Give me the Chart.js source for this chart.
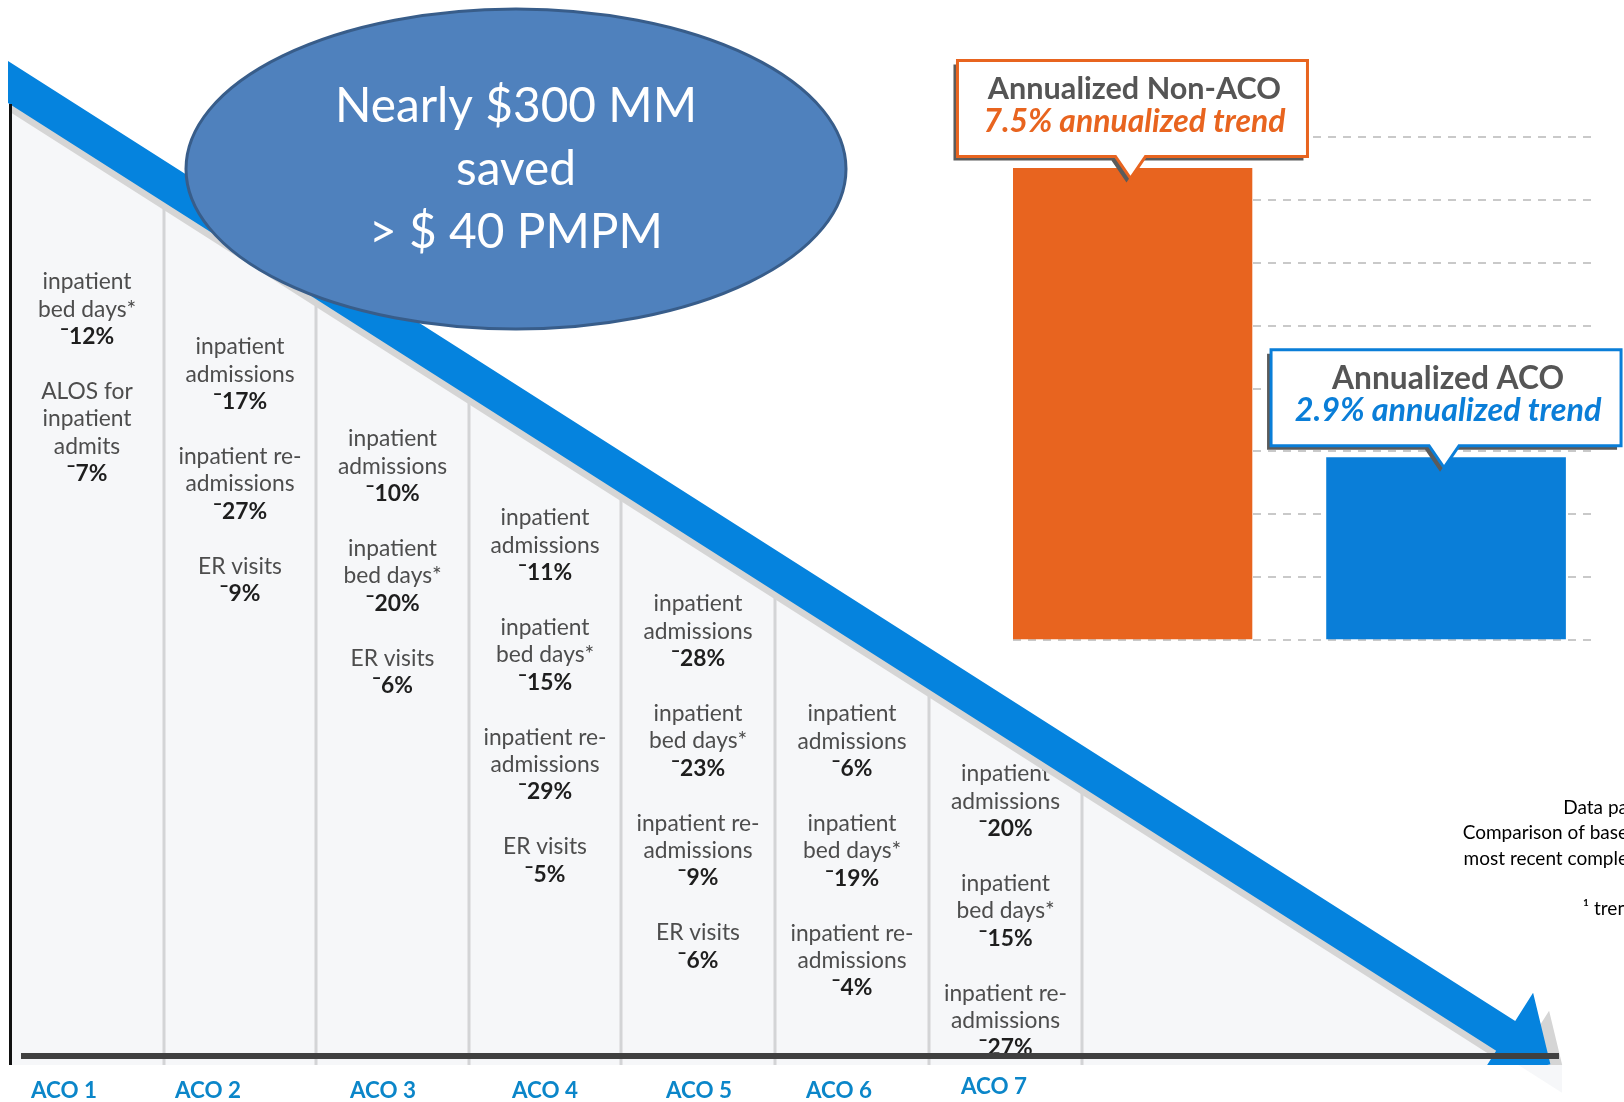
<!DOCTYPE html>
<html>
<head>
<meta charset="utf-8">
<script src="https://cdn.jsdelivr.net/npm/chart.js@4.4.1/dist/chart.umd.min.js"></script>
<style>
  html, body { margin: 0; padding: 0; background: #fff; overflow: hidden; }
  canvas { display: block; }
</style>
</head>
<body>
<canvas id="c" width="1624" height="1102"></canvas>
<script>
// annualized trend bars (right)
const trendLabels = ['Annualized Non-ACO', 'Annualized ACO'];
const trendValues = [7.5, 2.9];
const trendColors = ['#e8641f', '#0a7ed8'];
const trendMax = 8;

// ACO columns (left)
const acoLabels = ['ACO 1', 'ACO 2', 'ACO 3', 'ACO 4', 'ACO 5', 'ACO 6', 'ACO 7'];
const acoMetrics = [
  ['inpatient\nbed days*', 'ALOS for\ninpatient\nadmits'],
  ['inpatient\nadmissions', 'inpatient re-\nadmissions', 'ER visits'],
  ['inpatient\nadmissions', 'inpatient\nbed days*', 'ER visits'],
  ['inpatient\nadmissions', 'inpatient\nbed days*', 'inpatient re-\nadmissions', 'ER visits'],
  ['inpatient\nadmissions', 'inpatient\nbed days*', 'inpatient re-\nadmissions', 'ER visits'],
  ['inpatient\nadmissions', 'inpatient\nbed days*', 'inpatient re-\nadmissions'],
  ['inpatient\nadmissions', 'inpatient\nbed days*', 'inpatient re-\nadmissions']
];
const acoReductions = [[12, 7], [17, 27, 9], [10, 20, 6], [11, 15, 29, 5], [28, 23, 9, 6], [6, 19, 4], [20, 15, 27]];

const headline = ['Nearly $300 MM', 'saved', '> $ 40 PMPM'];
const footnote = ['Data pa', 'Comparison of base', 'most recent comple', '\u00b9 tren'];

// layout
const COL_EDGES = [10, 164, 316, 469, 621, 775, 929, 1082];
const COL_TOP = [282, 347, 439, 518, 604, 714, 774];
const LABEL_X = [64, 208, 383, 545, 699, 839, 994];
const LINE_H = 27.4;
const FLOOR = 1065;
const SLOPE = 0.6369;
const arrowTop = x => 61 + SLOPE * (x - 8);

function fitSize(ctx, text, font, target) {
  ctx.font = font.replace('{s}', 100);
  return 100 * target / ctx.measureText(text).width;
}

function arrowPath(ctx, dx, dy) {
  const len = Math.hypot(1, SLOPE);
  const u = [1 / len, SLOPE / len];
  const n = [SLOPE / len, -1 / len];
  const h = 21 / len, H = 51, L = 53;
  const bx = 1505.7, by = arrowTop(bx) + 21;
  const pts = [
    [-40, arrowTop(-40)],
    [bx + h * n[0], by + h * n[1]],
    [bx + H * n[0], by + H * n[1]],
    [bx + L * u[0], by + L * u[1]],
    [bx - H * n[0], by - H * n[1]],
    [bx - h * n[0], by - h * n[1]],
    [-40, arrowTop(-40) + 42]
  ];
  ctx.beginPath();
  pts.forEach((p, i) => i ? ctx.lineTo(p[0] + dx, p[1] + dy) : ctx.moveTo(p[0] + dx, p[1] + dy));
  ctx.closePath();
}

const infographic = {
  id: 'infographic',
  beforeDraw(chart) {
    const ctx = chart.ctx;
    ctx.save();
    ctx.fillStyle = '#fff';
    ctx.fillRect(0, 0, chart.width, chart.height);

    // light panel under the arrow
    ctx.beginPath();
    ctx.moveTo(10, arrowTop(10) + 42);
    ctx.lineTo(1562, arrowTop(1562) + 42);
    ctx.lineTo(1562, FLOOR);
    ctx.lineTo(10, FLOOR);
    ctx.closePath();
    ctx.fillStyle = '#f6f7f9';
    ctx.fill();

    // column separators
    ctx.strokeStyle = '#d3d4d6';
    ctx.lineWidth = 3;
    COL_EDGES.slice(1).forEach(x => {
      ctx.beginPath();
      ctx.moveTo(x, arrowTop(x) + 42);
      ctx.lineTo(x, FLOOR);
      ctx.stroke();
    });

    // column texts
    ctx.save();
    ctx.beginPath();
    ctx.rect(0, 0, 1100, 1054);
    ctx.clip();
    const regFont = '{s}px Lato, "DejaVu Sans", sans-serif';
    const boldFont = 'bold {s}px Lato, "DejaVu Sans", sans-serif';
    const regSize = fitSize(ctx, 'admissions', regFont, 109);
    ctx.textAlign = 'center';
    ctx.textBaseline = 'middle';
    acoMetrics.forEach((metrics, i) => {
      const cx = (COL_EDGES[i] + COL_EDGES[i + 1]) / 2;
      let y = COL_TOP[i];
      metrics.forEach((m, j) => {
        ctx.font = regFont.replace('{s}', regSize.toFixed(1));
        ctx.fillStyle = '#4d4d4d';
        m.split('\n').forEach(line => { ctx.fillText(line, cx, y); y += LINE_H; });
        ctx.font = boldFont.replace('{s}', regSize.toFixed(1));
        ctx.fillStyle = '#1e1e1e';
        ctx.fillText('\u00af' + acoReductions[i][j] + '%', cx, y);
        y += LINE_H * 2;
      });
    });
    ctx.restore();

    // arrow shadow + arrow
    ctx.save();
    ctx.beginPath();
    ctx.rect(10, 0, chart.width, FLOOR);
    ctx.clip();
    arrowPath(ctx, 16, 18);
    ctx.fillStyle = '#d5d5d5';
    ctx.fill();
    ctx.restore();
    ctx.save();
    ctx.beginPath();
    ctx.rect(8, 0, chart.width, FLOOR);
    ctx.clip();
    arrowPath(ctx, 0, 0);
    ctx.fillStyle = '#0583de';
    ctx.fill();
    ctx.restore();

    // base line and left axis
    ctx.fillStyle = '#404040';
    ctx.fillRect(21, 1053, 1538, 6);
    ctx.fillStyle = '#111';
    ctx.fillRect(9, 104, 3, FLOOR - 104);

    // ACO labels
    ctx.font = 'bold ' + fitSize(ctx, 'ACO 1', 'bold {s}px Lato, sans-serif', 66).toFixed(1) + 'px Lato, sans-serif';
    ctx.fillStyle = '#0b86c9';
    ctx.textAlign = 'center';
    ctx.textBaseline = 'middle';
    acoLabels.forEach((l, i) => ctx.fillText(l, LABEL_X[i], i === 6 ? 1087 : 1091));

    // savings ellipse
    ctx.beginPath();
    ctx.ellipse(516, 169, 330, 160, 0, 0, Math.PI * 2);
    ctx.fillStyle = '#4f81bd';
    ctx.fill();
    ctx.lineWidth = 3;
    ctx.strokeStyle = '#385d8a';
    ctx.stroke();
    const hs = fitSize(ctx, headline[0], '{s}px Lato, sans-serif', 362);
    ctx.font = hs.toFixed(1) + 'px Lato, sans-serif';
    ctx.fillStyle = '#fff';
    headline.forEach((t, i) => ctx.fillText(t, 516, 107 + i * 63));

    // footnote (runs off the right edge)
    ctx.font = '19px Lato, "Liberation Sans", sans-serif';
    ctx.fillStyle = '#000';
    ctx.textAlign = 'right';
    [808, 833, 859, 909].forEach((y, i) => ctx.fillText(footnote[i], 1628, y));
    ctx.restore();
  },
  afterDraw(chart) {
    const ctx = chart.ctx;
    const bars = chart.getDatasetMeta(0).data;
    ctx.save();
    bars.forEach((bar, i) => {
      const w = 350, hgt = 96;
      const left = bar.x - w / 2, bottom = bar.y - 12, top = bottom - hgt;
      const px = bar.x - 2;
      const shape = (dx, dy) => {
        ctx.beginPath();
        ctx.moveTo(left + dx, top + dy);
        ctx.lineTo(left + w + dx, top + dy);
        ctx.lineTo(left + w + dx, bottom + dy);
        ctx.lineTo(px + 15 + dx, bottom + dy);
        ctx.lineTo(px + dx, bar.y + 10 + dy);
        ctx.lineTo(px - 15 + dx, bottom + dy);
        ctx.lineTo(left + dx, bottom + dy);
        ctx.closePath();
      };
      shape(-4, 4);
      ctx.fillStyle = '#5b5b5b';
      ctx.fill();
      shape(0, 0);
      ctx.fillStyle = '#fff';
      ctx.fill();
      ctx.lineWidth = 3;
      ctx.strokeStyle = trendColors[i];
      ctx.stroke();

      ctx.textAlign = 'center';
      ctx.textBaseline = 'middle';
      const t1 = trendLabels[i];
      const t2 = trendValues[i] + '% annualized trend';
      const s1 = fitSize(ctx, t1, 'bold {s}px Lato, sans-serif', i === 0 ? 293 : 232);
      ctx.font = 'bold ' + s1.toFixed(1) + 'px Lato, sans-serif';
      ctx.fillStyle = '#555';
      ctx.fillText(t1, bar.x + 2, top + 29);
      const s2 = fitSize(ctx, t2, 'italic bold {s}px Lato, sans-serif', i === 0 ? 302 : 307);
      ctx.font = 'italic bold ' + s2.toFixed(1) + 'px Lato, sans-serif';
      ctx.fillStyle = trendColors[i];
      ctx.fillText(t2, bar.x + 2, top + 61);
    });
    ctx.restore();
  }
};

new Chart(document.getElementById('c'), {
  type: 'bar',
  data: {
    datasets: [{
      data: trendValues.map((v, i) => ({ x: i, y: v })),
      backgroundColor: trendColors,
      borderWidth: 0,
      barThickness: 239
    }]
  },
  options: {
    responsive: false,
    animation: false,
    events: [],
    layout: { padding: { left: 1013, right: 29, top: 137, bottom: 462 } },
    plugins: { legend: { display: false }, tooltip: { enabled: false } },
    scales: {
      x: {
        type: 'linear', display: false, offset: false, bounds: 'data',
        min: -0.381, max: 1.475,
        grid: { offset: false },
        ticks: { stepSize: 1, includeBounds: false }
      },
      y: {
        min: 0, max: trendMax,
        ticks: { stepSize: 1, display: false },
        grid: { color: '#c9c9c9', lineWidth: 2, drawTicks: false },
        border: { display: false, dash: [8, 7] },
        afterFit: s => { s.width = 0; }
      }
    }
  },
  plugins: [infographic]
});
</script>
</body>
</html>
